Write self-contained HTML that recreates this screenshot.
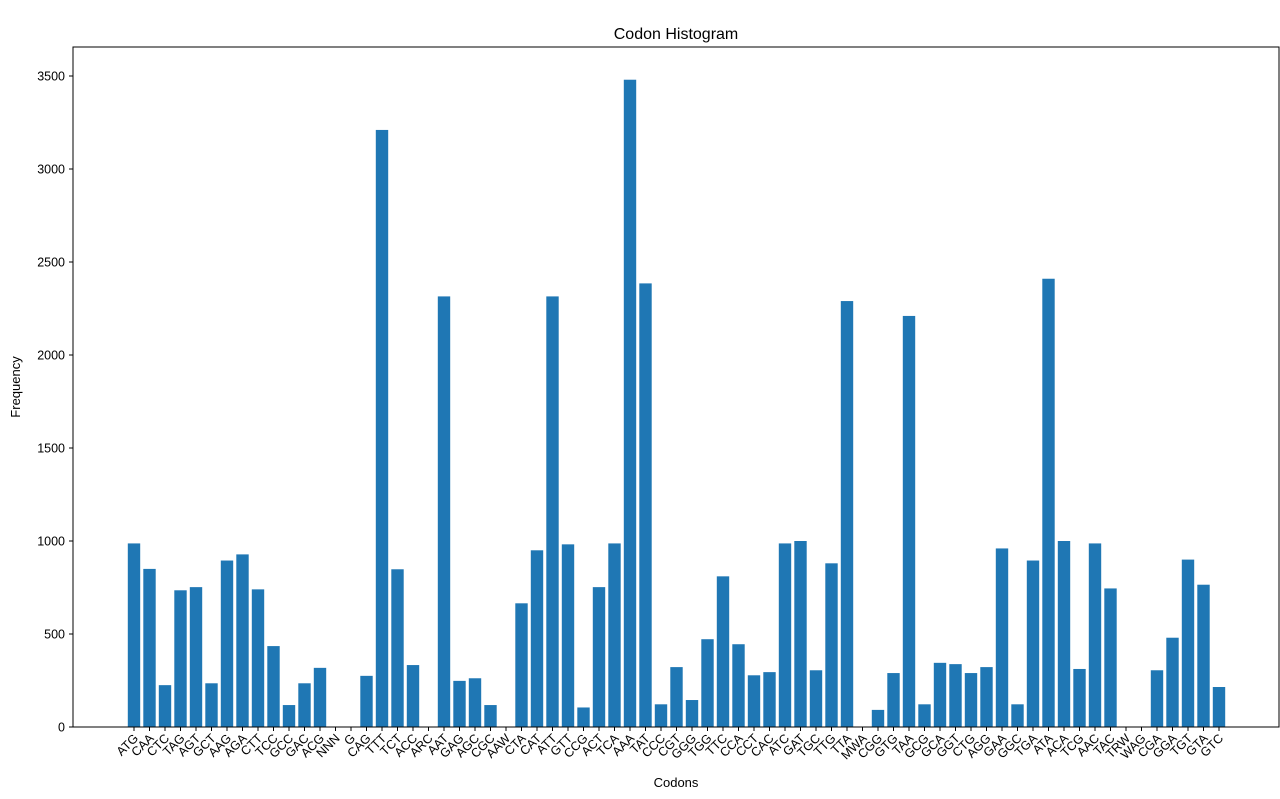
<!DOCTYPE html>
<html><head><meta charset="utf-8"><style>
body{margin:0;background:#fff;}
svg text{font-family:"Liberation Sans","DejaVu Sans",sans-serif;}
</style></head><body>
<svg id="chart" width="1280" height="794" xmlns="http://www.w3.org/2000/svg">
<text x="676" y="39" font-size="16" text-anchor="middle">Codon Histogram</text>
<text x="20" y="387" font-size="13" text-anchor="middle" transform="rotate(-90 20 387)">Frequency</text>
<text x="676" y="787" font-size="13" text-anchor="middle">Codons</text>
<g id="bars"></g><g id="xticks"></g><g id="yticks"></g>
<rect x="73" y="47" width="1206" height="680" fill="none" stroke="#000" stroke-width="1"/>
</svg>
<script>
const categories=["ATG","CAA","CTC","TAG","AGT","GCT","AAG","AGA","CTT","TCC","GCC","GAC","ACG","NNN","G","CAG","TTT","TCT","ACC","ARC","AAT","GAG","AGC","CGC","AAW","CTA","CAT","ATT","GTT","CCG","ACT","TCA","AAA","TAT","CCC","CGT","GGG","TGG","TTC","CCA","CCT","CAC","ATC","GAT","TGC","TTG","TTA","MWA","CGG","GTG","TAA","GCG","GCA","GGT","CTG","AGG","GAA","GGC","TGA","ATA","ACA","TCG","AAC","TAC","TRW","WAG","CGA","GGA","TGT","GTA","GTC"];
const frequencies=[987,850,225,735,752,235,895,928,740,435,118,235,318,0,0,275,3210,848,333,0,2315,248,262,118,0,665,950,2315,982,105,752,987,3480,2385,122,322,145,472,810,445,278,295,987,1000,305,880,2290,0,92,290,2210,122,345,338,290,322,960,122,895,2410,1000,312,987,745,0,0,305,480,900,765,215];
const yTicks=[0,500,1000,1500,2000,2500,3000,3500];
const NS="http://www.w3.org/2000/svg";
const x0=134,x1=1219,yBase=727,pxPer=651/3500;
function xPos(i){return x0+i*(x1-x0)/(categories.length-1);}
function yPos(v){return yBase-v*pxPer;}
const step=(x1-x0)/(categories.length-1),bw=step*0.8;
const bars=document.getElementById('bars'),xt=document.getElementById('xticks'),yt=document.getElementById('yticks');
categories.forEach((c,i)=>{
  const r=document.createElementNS(NS,'rect');
  
  
  r.setAttribute('x',xPos(i)-bw/2);r.setAttribute('y',yPos(frequencies[i]));
  r.setAttribute('width',bw);r.setAttribute('height',yBase-yPos(frequencies[i]));
  r.setAttribute('fill','#1f77b4');bars.appendChild(r);
  const t=document.createElementNS(NS,'line');
  
  
  t.setAttribute('x1',xPos(i));t.setAttribute('x2',xPos(i));t.setAttribute('y1',yBase);t.setAttribute('y2',yBase+4);
  t.setAttribute('stroke','#000');xt.appendChild(t);
  const l=document.createElementNS(NS,'text');
  
  
  const lx=xPos(i)+5,ly=yBase+12;
  l.setAttribute('x',lx);l.setAttribute('y',ly);l.setAttribute('font-size','12.5');
  l.setAttribute('text-anchor','end');l.setAttribute('transform','rotate(-45 '+lx+' '+ly+')');
  l.textContent=c;xt.appendChild(l);
});
yTicks.forEach(v=>{
  const t=document.createElementNS(NS,'line');
  
  
  t.setAttribute('x1',69);t.setAttribute('x2',73);t.setAttribute('y1',yPos(v));t.setAttribute('y2',yPos(v));
  t.setAttribute('stroke','#000');yt.appendChild(t);
  const l=document.createElementNS(NS,'text');
  
  
  l.setAttribute('x',65);l.setAttribute('y',yPos(v)+4.5);l.setAttribute('font-size','12.5');
  l.setAttribute('text-anchor','end');l.textContent=v;yt.appendChild(l);
});
</script>
</body></html>
